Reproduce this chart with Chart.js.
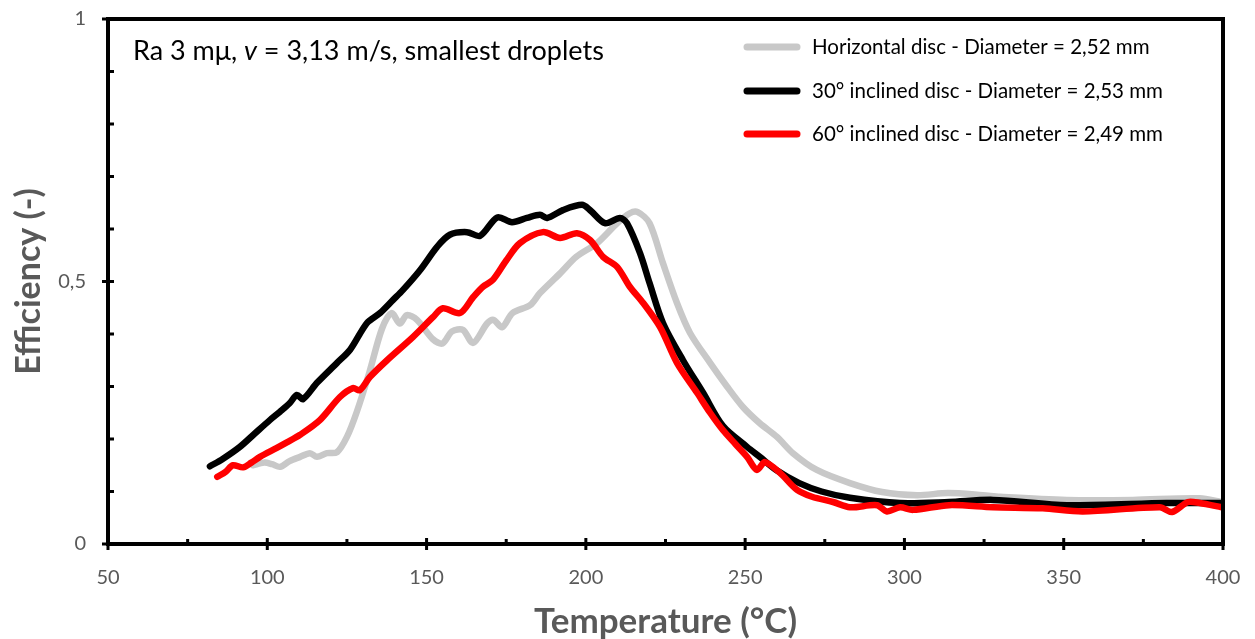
<!DOCTYPE html>
<html>
<head>
<meta charset="utf-8">
<script src="https://cdn.jsdelivr.net/npm/chart.js@4/dist/chart.umd.min.js"></script>
<style>
html,body{margin:0;padding:0;background:#fff;}
#wrap{width:1255px;height:639px;}
</style>
</head>
<body>
<div id="wrap"><canvas id="c" width="1255" height="639"></canvas></div>
<script>
const FONT = "Lato, 'Open Sans', sans-serif";
const seriesLabels = [
  "Horizontal disc - Diameter = 2,52 mm",
  "30° inclined disc - Diameter = 2,53 mm",
  "60° inclined disc - Diameter = 2,49 mm"
];
const annotation = ["Ra 3 mμ, ", "v", " = 3,13 m/s, smallest droplets"];
const xTitle = "Temperature (°C)";
const yTitle = "Efficiency (-)";

const horizT = [95.5,99,101.5,104,107,110.3,113.4,115.6,118.7,121.9,125,128,132,136,139,141.6,143.8,147,152,155,158,161.4,164.6,169,171,173.7,177,182.5,185.6,192,197,203.5,209.8,213.8,216.3,220,224.2,228.6,232.7,239,244.3,249.3,254.6,260,265,272.5,282.9,293,304,313.7,324.6,330,351,371.7,392.7,399.6];
const horizE = [0.15,0.155,0.152,0.147,0.158,0.166,0.173,0.166,0.173,0.175,0.204,0.25,0.326,0.41,0.44,0.42,0.436,0.427,0.39,0.382,0.405,0.408,0.383,0.42,0.427,0.413,0.44,0.455,0.478,0.516,0.547,0.573,0.611,0.63,0.632,0.611,0.535,0.459,0.402,0.345,0.3,0.261,0.23,0.204,0.173,0.141,0.116,0.099,0.093,0.097,0.093,0.09,0.084,0.084,0.087,0.08];

const inc30T = [82,86,91.4,96,100.8,104,107,109.3,111.2,115.6,121.9,126,131.3,135.4,139.5,142.6,148,153.3,157.3,162.7,166.8,172.2,176.8,181.5,185.6,187.8,192.8,198.8,201.3,206,210.7,212.9,217,220,224.2,230.5,236.8,243,250.6,254.6,260,267,274,282.9,298.6,314,327.8,351,382.4,399.6];
const inc30E = [0.148,0.162,0.185,0.21,0.236,0.252,0.268,0.284,0.276,0.307,0.345,0.37,0.421,0.44,0.465,0.484,0.522,0.566,0.589,0.594,0.587,0.622,0.613,0.621,0.627,0.621,0.636,0.646,0.636,0.611,0.621,0.611,0.554,0.497,0.421,0.35,0.288,0.225,0.185,0.166,0.14,0.116,0.1,0.088,0.078,0.08,0.084,0.074,0.078,0.078];

const inc60T = [84.3,87,89.2,92.4,95,97.7,103,106,110.3,116.5,122.8,126.9,129,132.2,137.6,145.7,152,155.1,160.5,164.6,167.7,170.8,175,179.3,186.5,191.9,197.2,201.3,205.4,209.8,213.8,218,223.3,228.6,234.9,239,243,247,250.6,253.7,256.2,261,266.3,271,277.6,282.9,291.4,294.5,298.6,302.7,314,327.8,343.4,356,380.2,384,389,392.7,399.6];
const inc60E = [0.128,0.138,0.15,0.146,0.155,0.166,0.183,0.193,0.208,0.236,0.28,0.297,0.293,0.318,0.35,0.394,0.432,0.449,0.44,0.47,0.49,0.503,0.54,0.573,0.594,0.583,0.592,0.579,0.547,0.528,0.49,0.459,0.413,0.345,0.288,0.25,0.217,0.19,0.166,0.141,0.156,0.135,0.103,0.09,0.08,0.07,0.074,0.062,0.07,0.065,0.074,0.07,0.068,0.062,0.07,0.061,0.08,0.078,0.07];

const xMin = 50, xMax = 400, xMajor = 50, xMinor = 25;
const yMin = 0, yMax = 1, yMajor = 0.5, yMinor = 0.1;

const colors = ["#c8c8c8", "#000000", "#ff0000"];

function pts(t, e){ return t.map((v,i)=>({x:v,y:e[i]})); }

const frame = {
  id:'frame',
  afterDatasetsDraw(chart){
    const {ctx, chartArea:a, scales:{x, y}} = chart;
    ctx.save();
    ctx.strokeStyle = '#000';
    ctx.lineWidth = 4;
    ctx.strokeRect(a.left, a.top, a.right - a.left, a.bottom - a.top);
    ctx.lineWidth = 3;
    ctx.beginPath();
    for (let v = xMin; v <= xMax + 1e-9; v += xMinor){
      const px = x.getPixelForValue(v);
      const major = Math.abs(v / xMajor - Math.round(v / xMajor)) < 1e-6;
      if (major){ ctx.moveTo(px, a.bottom - 6); ctx.lineTo(px, a.bottom + 6); }
      else { ctx.moveTo(px, a.bottom - 5); ctx.lineTo(px, a.bottom); }
    }
    for (let v = yMin; v <= yMax + 1e-9; v += yMinor){
      const py = y.getPixelForValue(v);
      const major = Math.abs(v / yMajor - Math.round(v / yMajor)) < 1e-6;
      if (major){ ctx.moveTo(a.left - 6, py); ctx.lineTo(a.left + 6, py); }
      else { ctx.moveTo(a.left, py); ctx.lineTo(a.left + 6, py); }
    }
    ctx.stroke();

    ctx.fillStyle = '#000';
    ctx.textBaseline = 'middle';
    ctx.textAlign = 'left';
    let tx = a.left + 25, ty = 51;
    ctx.font = "27px " + FONT;
    ctx.fillText(annotation[0], tx, ty); tx += ctx.measureText(annotation[0]).width;
    ctx.font = "italic 27px " + FONT;
    ctx.fillText(annotation[1], tx, ty); tx += ctx.measureText(annotation[1]).width;
    ctx.font = "27px " + FONT;
    ctx.fillText(annotation[2], tx, ty);

    const rows = [47, 91, 134];
    chart.data.datasets.forEach((ds) => {
      const ry = rows[ds.legendIndex];
      ctx.strokeStyle = ds.borderColor;
      ctx.lineWidth = 7;
      ctx.lineCap = 'round';
      ctx.beginPath(); ctx.moveTo(747, ry); ctx.lineTo(797, ry); ctx.stroke();
      ctx.fillStyle = '#000';
      ctx.font = "20.5px " + FONT;
      ctx.fillText(ds.label, 812, ry);
    });
    ctx.restore();
  }
};

const datasets = [
  {label: seriesLabels[2], data: pts(inc60T, inc60E), borderColor: colors[2], legendIndex: 2, order: 1},
  {label: seriesLabels[1], data: pts(inc30T, inc30E), borderColor: colors[1], legendIndex: 1, order: 2},
  {label: seriesLabels[0], data: pts(horizT, horizE), borderColor: colors[0], legendIndex: 0, order: 3}
].map(d => Object.assign(d, {borderWidth: 6.5, pointRadius: 0, tension: 0.3, fill: false, borderCapStyle: 'round', borderJoinStyle: 'round'}));

new Chart(document.getElementById('c'), {
  type: 'line',
  data: {datasets},
  options: {
    responsive: false,
    animation: false,
    layout: {padding: {top: 19, right: 32, left: 0, bottom: 0}},
    plugins: {legend: {display: false}, tooltip: {enabled: false}},
    scales: {
      x: {
        type: 'linear', min: xMin, max: xMax,
        border: {display: false},
        grid: {display: false, drawTicks: false},
        ticks: {stepSize: xMajor, padding: 22, color: '#595959', font: {family: FONT, size: 20}, maxRotation: 0},
        title: {display: true, text: xTitle, color: '#595959', font: {family: FONT, size: 35, weight: 'bold', lineHeight: 1}, padding: {top: 0, bottom: 0}},
        afterFit(s){ s.height = 95; s.paddingLeft = 0; s.paddingRight = 0; }
      },
      y: {
        type: 'linear', min: yMin, max: yMax,
        border: {display: false},
        grid: {display: false, drawTicks: false},
        ticks: {stepSize: yMajor, padding: 22, color: '#595959', font: {family: FONT, size: 20},
          callback: v => String(v).replace('.', ',')},
        title: {display: true, text: yTitle, color: '#595959', font: {family: FONT, size: 34, weight: 'bold', lineHeight: 1}, padding: {top: 12, bottom: 0}},
        afterFit(s){ s.width = 108; s.paddingTop = 0; s.paddingBottom = 0; }
      }
    }
  },
  plugins: [frame]
});
</script>
</body>
</html>
